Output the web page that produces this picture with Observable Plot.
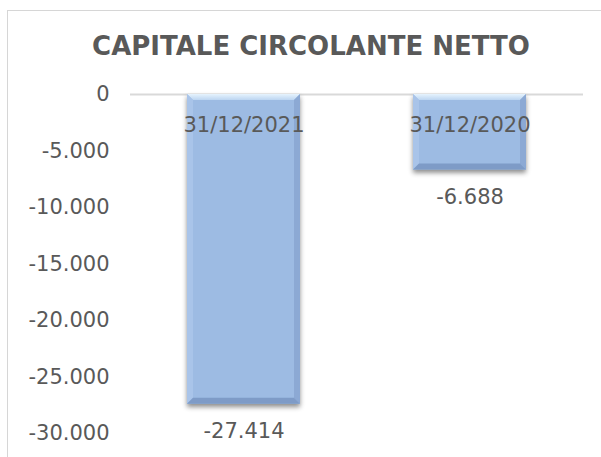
<!DOCTYPE html>
<html><head><meta charset="utf-8">
<script src="https://cdn.jsdelivr.net/npm/d3@7"></script>
<script src="https://cdn.jsdelivr.net/npm/@observablehq/plot@0.6"></script>
<style>
body{margin:0;background:#fff;}
#wrap{position:relative;width:601px;height:457px;overflow:hidden;}
#border{position:absolute;left:7px;top:10px;width:700px;height:600px;border-left:1.5px solid #d6d6d6;border-top:1.5px solid #d6d6d6;}
#chart{position:absolute;left:0;top:0;}
</style></head><body>
<div id="wrap"><div id="border"></div><div id="chart"></div></div>
<script>
const title = "CAPITALE CIRCOLANTE NETTO";
const categories = ["31/12/2021", "31/12/2020"];
const values = [-27414, -6688];
const yTicks = [0, -5000, -10000, -15000, -20000, -25000, -30000];

const data = categories.map((c, i) => ({category: c, value: values[i]}));
const locale = d3.formatLocale({decimal: ",", thousands: ".", grouping: [3], currency: ["", "€"], minus: "-"});
const fmt = locale.format(",d");

const chart = Plot.plot({
  width: 601, height: 457,
  marginLeft: 130, marginRight: 18, marginTop: 94, marginBottom: 24,
  style: {fontFamily: "'DejaVu Sans', Verdana, sans-serif", fontSize: "21px", color: "#595959", background: "transparent", overflow: "visible"},
  x: {domain: categories, paddingInner: 0.5, paddingOuter: 0.25, axis: null},
  y: {domain: [-30000, 0], ticks: yTicks, tickFormat: fmt, tickSize: 0, tickPadding: 21, label: null},
  marks: [
    Plot.ruleY([0], {stroke: "#d9d9d9", strokeWidth: 2}),
    Plot.barY(data, {x: "category", y: "value", fill: "#9dbbe3", className: "bars"}),
    Plot.text(data, {x: "category", text: "category", frameAnchor: "top", dy: 31, lineAnchor: "middle"}),
    Plot.text(data, {x: "category", y: "value", text: d => fmt(d.value), dy: 27, lineAnchor: "middle"}),
    Plot.text([title], {frameAnchor: "top", dx: -46, dy: -48, lineAnchor: "middle", fontWeight: "bold", fontSize: 26})
  ]
});
document.getElementById("chart").appendChild(chart);

// bevel / shadow styling derived from rendered bars
const ns = "http://www.w3.org/2000/svg";
const defs = document.createElementNS(ns, "defs");
defs.innerHTML = `<linearGradient id="bevTop" x1="0" y1="0" x2="0" y2="1">
  <stop offset="0" stop-color="#e6f3fd"/><stop offset="1" stop-color="#bcd5f1"/></linearGradient>`;
chart.insertBefore(defs, chart.firstChild);
const barG = chart.querySelector("g.bars");
barG.setAttribute("style", "filter: drop-shadow(0px 3px 2.5px rgba(0,0,0,0.45))");
const b = 6;
barG.querySelectorAll("rect").forEach(r => {
  const x = +r.getAttribute("x"), y = +r.getAttribute("y"), w = +r.getAttribute("width"), h = +r.getAttribute("height");
  const faces = [
    {pts: [[x, y], [x + w, y], [x + w - b, y + b], [x + b, y + b]], fill: "url(#bevTop)"},
    {pts: [[x, y], [x + b, y + b], [x + b, y + h - b], [x, y + h]], fill: "#a9c4e9"},
    {pts: [[x + w, y], [x + w, y + h], [x + w - b, y + h - b], [x + w - b, y + b]], fill: "#8ca9d4"},
    {pts: [[x, y + h], [x + b, y + h - b], [x + w - b, y + h - b], [x + w, y + h]], fill: "#7e9bc7"}
  ];
  faces.forEach(f => {
    const p = document.createElementNS(ns, "polygon");
    p.setAttribute("points", f.pts.map(q => q.join(",")).join(" "));
    p.setAttribute("fill", f.fill);
    r.parentNode.appendChild(p);
  });
});
</script>
</body></html>
